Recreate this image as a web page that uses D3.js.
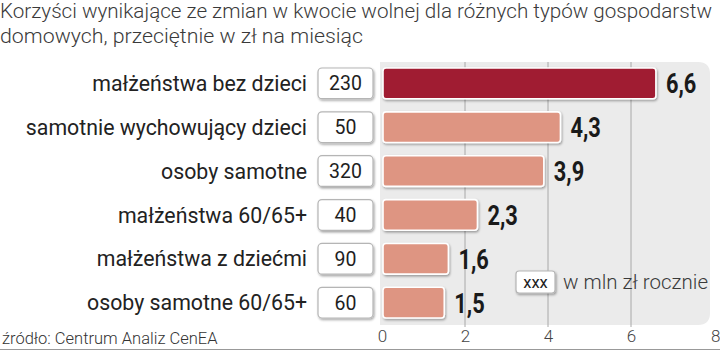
<!DOCTYPE html>
<html><head><meta charset="utf-8">
<script src="https://cdn.jsdelivr.net/npm/d3@7"></script>
<style>body{margin:0;background:#fff}svg{display:block}</style>
</head><body>
<svg id="c" width="720" height="350"></svg>
<script>
const categories = ["małżeństwa bez dzieci","samotnie wychowujący dzieci","osoby samotne","małżeństwa 60/65+","małżeństwa z dziećmi","osoby samotne 60/65+"];
const values = [6.6, 4.3, 3.9, 2.3, 1.6, 1.5];
const annual = [230, 50, 320, 40, 90, 60];
const xTicks = [0, 2, 4, 6, 8];
const titleLines = ["Korzyści wynikające ze zmian w kwocie wolnej dla różnych typów gospodarstw","domowych, przeciętnie w zł na miesiąc"];
const sourceText = "źródło: Centrum Analiz CenEA";
const legendBox = "xxx";
const legendText = "w mln zł rocznie";

const svg = d3.select("#c");
const defs = svg.append("defs");
const f = defs.append("filter").attr("id","sh").attr("x","-10%").attr("y","-20%").attr("width","130%").attr("height","150%");
f.append("feDropShadow").attr("dx",1).attr("dy",1.5).attr("stdDeviation",1.2).attr("flood-color","#000").attr("flood-opacity",0.35);

const x = d3.scaleLinear().domain([0,8]).range([382,714]);
const y = d3.scaleBand().domain(categories).range([61,325]).paddingInner(0.3).paddingOuter(0.16);

// panel
svg.append("path").attr("fill","#ebebeb")
  .attr("d",`M380,62 H698 Q710,62 710,74 V313 Q710,325 698,325 H380 Z`);

// grid
svg.append("g").selectAll("line").data(xTicks.filter(d=>d>0 && d<8)).join("line")
  .attr("x1",d=>x(d)).attr("x2",d=>x(d)).attr("y1",62).attr("y2",327)
  .attr("stroke","#a8a8a8").attr("stroke-width",1);

// title
svg.append("g").selectAll("text").data(titleLines).join("text")
  .attr("x",0).attr("y",(d,i)=>18+i*25)
  .attr("font-family","Roboto").attr("font-weight",300).attr("font-size",20.5)
  .attr("fill","#3a3a3a").text(d=>d)
  .each(function(d,i){ this.setAttribute("textLength", i===0?712:363); this.setAttribute("lengthAdjust","spacingAndGlyphs"); });

// bars
svg.append("g").selectAll("rect").data(categories).join("rect")
  .attr("x",x(0)+1).attr("y",d=>y(d)).attr("height",y.bandwidth())
  .attr("width",(d,i)=>x(values[i])-x(0)-1)
  .attr("rx",3)
  .attr("fill",(d,i)=>i===0?"#a01c30":"#de9582")
  .attr("stroke","#fff").attr("stroke-width",1.6)
  .attr("filter","url(#sh)");

// value labels (condensed bold look)
svg.append("g").selectAll("text").data(categories).join("text")
  .attr("transform",(d,i)=>`translate(${x(values[i])+10},${y(d)+y.bandwidth()/2}) scale(0.78,1)`)
  .attr("dy","0.36em")
  .attr("font-family","Roboto")
  .attr("font-weight","bold").attr("font-size",28).attr("fill","#1a1a1a")
  .text((d,i)=>d3.format(".1f")(values[i]).replace(".",","));

// annual boxes
const boxG = svg.append("g");
boxG.selectAll("rect").data(categories).join("rect")
  .attr("x",318).attr("y",d=>y(d)).attr("width",55).attr("height",y.bandwidth())
  .attr("rx",4).attr("fill","#fff").attr("stroke","#b5b5b5").attr("stroke-width",1.2)
  .attr("filter","url(#sh)");
boxG.selectAll("text").data(categories).join("text")
  .attr("x",345.5).attr("y",d=>y(d)+y.bandwidth()/2).attr("dy","0.36em")
  .attr("text-anchor","middle")
  .attr("font-family","Roboto").attr("font-size",19.5).attr("fill","#1e1e1e")
  .text((d,i)=>annual[i]);

// category labels
svg.append("g").selectAll("text").data(categories).join("text")
  .attr("x",307).attr("y",d=>y(d)+y.bandwidth()/2).attr("dy","0.36em")
  .attr("text-anchor","end")
  .attr("font-family","Roboto").attr("font-size",21.3).attr("fill","#222")
  .text(d=>d);

// axis
const ax = svg.append("g").attr("transform","translate(0,328)")
  .call(d3.axisBottom(x).tickValues(xTicks).tickSize(0).tickPadding(2));
ax.select(".domain").remove();
ax.selectAll("text").attr("font-family","Roboto").attr("font-weight",300).attr("font-size",17).attr("fill","#444");
ax.selectAll(".tick").filter(d=>d===8).select("text").attr("text-anchor","end").attr("dx","6");

// legend
svg.append("rect").attr("x",516).attr("y",271).attr("width",39).attr("height",22).attr("rx",3)
  .attr("fill","#fff").attr("stroke","#b5b5b5").attr("stroke-width",1.2).attr("filter","url(#sh)");
svg.append("text").attr("x",535.5).attr("y",282).attr("dy","0.36em").attr("text-anchor","middle")
  .attr("font-family","Roboto").attr("font-size",16.5).attr("fill","#222").text(legendBox);
svg.append("text").attr("x",563).attr("y",282).attr("dy","0.36em")
  .attr("font-family","Roboto").attr("font-weight",300).attr("font-size",20.5).attr("fill","#3a3a3a").text(legendText);

// source
svg.append("text").attr("x",2).attr("y",344)
  .attr("font-family","Roboto").attr("font-weight",300).attr("font-size",16.5).attr("fill","#333").text(sourceText);

// bottom line
svg.append("line").attr("x1",0).attr("x2",720).attr("y1",349.5).attr("y2",349.5).attr("stroke","#999");
</script>
</body></html>
